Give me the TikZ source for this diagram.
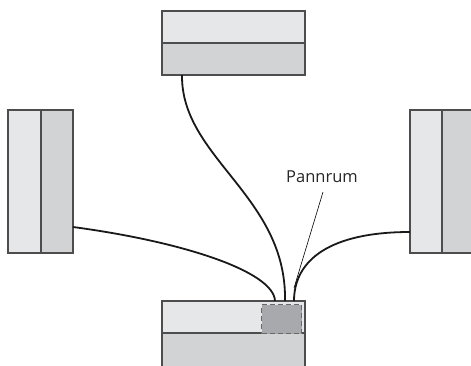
\documentclass[tikz,border=0pt]{standalone}
\usepackage{fontspec}
\setsansfont{Open Sans}
\definecolor{lightpart}{HTML}{E6E7E8}
\definecolor{darkpart}{HTML}{D1D3D4}
\definecolor{roomfill}{HTML}{A7A9AC}
\definecolor{edge}{HTML}{4D4D4D}
\begin{document}
\begin{tikzpicture}[x=1pt,y=-1pt,
  part/.style={draw=edge, line width=1.1pt, inner sep=0pt, outer sep=0pt, anchor=north west},
  light/.style={part, fill=lightpart},
  dark/.style={part, fill=darkpart},
  room/.style={draw=edge!85, dash pattern=on 5pt off 3pt, line width=1.1pt, fill=roomfill, inner sep=0pt, anchor=north west},
  wire/.style={line width=1.8pt, black!90},
  leader/.style={line width=0.6pt, black},
  lbl/.style={font=\sffamily\fontsize{16.5}{18}\selectfont, inner sep=0pt, text=black!85}]
\useasboundingbox (0,0) rectangle (471,365);
\clip (0,0) rectangle (471,365);
% top unit
\node[light, minimum width=143pt, minimum height=32pt] (topA) at (162,11) {};
\node[dark, minimum width=143pt, minimum height=32pt] (topB) at (162,43) {};
% left unit
\node[light, minimum width=33pt, minimum height=143pt] (leftA) at (8,110) {};
\node[dark, minimum width=32pt, minimum height=143pt] (leftB) at (41,110) {};
% right unit
\node[light, minimum width=32pt, minimum height=143pt] (rightA) at (410,110) {};
\node[dark, minimum width=40pt, minimum height=143pt] (rightB) at (442,110) {};
% bottom unit
\node[light, minimum width=143pt, minimum height=32pt] (botA) at (162,301) {};
\node[dark, minimum width=143pt, minimum height=40pt] (botB) at (162,333) {};
% boiler room
\node[room, minimum width=40pt, minimum height=29pt] (pann) at (261,304) {};
% wire ends
\coordinate (lw0) at (73,227);
\coordinate (lw1) at (275,301);
\coordinate (tw0) at (182,75);
\coordinate (tw1) at (285,301);
\coordinate (rw0) at (410,232);
\coordinate (rw1) at (294,301);
\draw[wire] (lw0) .. controls (185,242) and (274,272) .. (lw1);
\draw[wire] (tw0) .. controls (181,158) and (287,196) .. (tw1);
\draw[wire] (rw0) .. controls (330,232) and (294,260) .. (rw1);
% label
\node[lbl] (label) at (322,177) {Pannrum};
\coordinate (lead0) at (323,192);
\coordinate (lead1) at (294,288);
\draw[leader] (lead0) -- (lead1);
\end{tikzpicture}
\end{document}
